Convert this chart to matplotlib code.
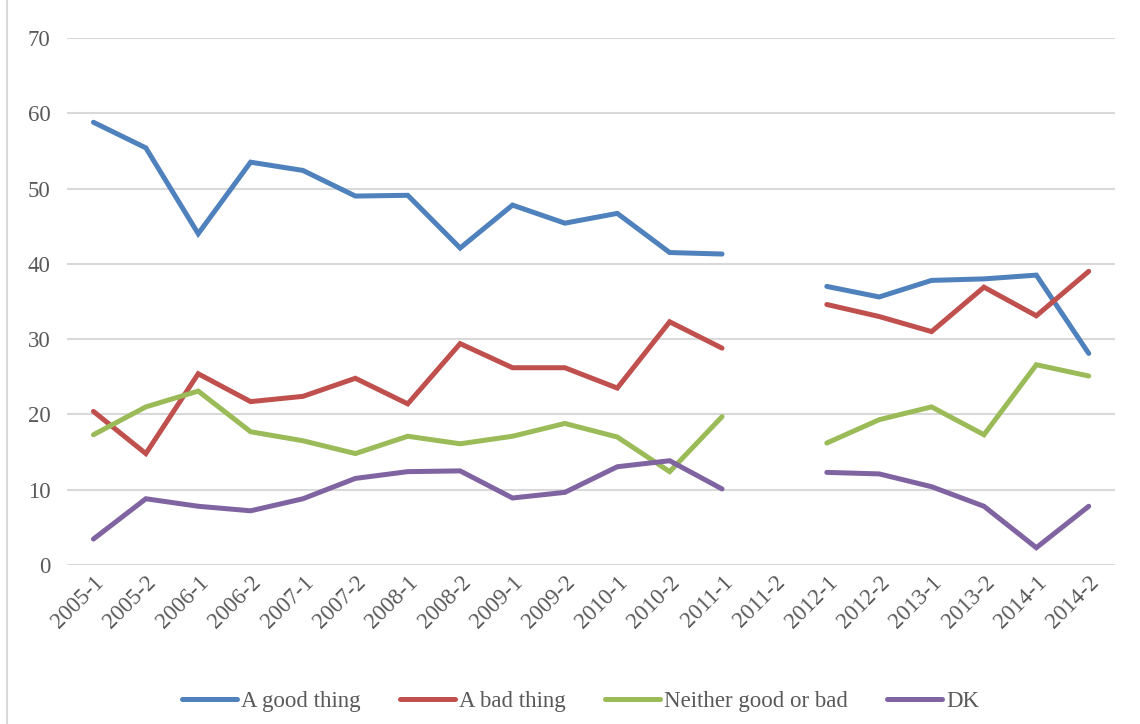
import numpy as np
import matplotlib as mpl
mpl.use('Agg')
import matplotlib.pyplot as plt
from matplotlib.lines import Line2D

periods = ['2005-1','2005-2','2006-1','2006-2','2007-1','2007-2','2008-1','2008-2',
           '2009-1','2009-2','2010-1','2010-2','2011-1','2011-2','2012-1','2012-2',
           '2013-1','2013-2','2014-1','2014-2']
nan = np.nan
good = [58.8,55.4,44.0,53.5,52.4,49.0,49.1,42.1,47.8,45.4,46.7,41.5,41.3,nan,
        37.0,35.6,37.8,38.0,38.5,28.1]
bad = [20.4,14.8,25.4,21.7,22.4,24.8,21.4,29.4,26.2,26.2,23.5,32.3,28.8,nan,
       34.6,33.0,31.0,36.9,33.1,39.0]
neither = [17.3,21.0,23.1,17.7,16.5,14.8,17.1,16.1,17.1,18.8,17.0,12.4,19.7,nan,
           16.2,19.3,21.0,17.3,26.6,25.1]
dk = [3.45,8.8,7.8,7.2,8.8,11.5,12.4,12.5,8.9,9.65,13.05,13.85,10.1,nan,
      12.3,12.1,10.4,7.8,2.3,7.8]

series = [good,bad,neither,dk]
labels = ['A good thing','A bad thing','Neither good or bad','DK']
colors = ['#4F81BD','#C0504D','#9BBB59','#8064A2']

plt.rcParams['font.family'] = ['Liberation Serif','DejaVu Serif']

fig = plt.figure(figsize=(11.4,7.24),dpi=100)
ax = fig.add_axes([0.059,0.2196,0.919,0.728])

x = np.arange(len(periods))
for i in range(len(series)):
    ax.plot(x,series[i],color=colors[i],linewidth=3.6,label=labels[i],
            solid_capstyle='round',solid_joinstyle='miter')

ax.set_xlim(-0.5,len(periods)-0.5)
ax.set_ylim(0,70)
ax.set_yticks(np.arange(0,71,10))
ax.set_xticks(x)
ax.set_xticklabels(periods,rotation=45,ha='right',rotation_mode='anchor')
ax.tick_params(axis='both',length=0,labelsize=16.5,colors='#595959')
ax.tick_params(axis='y',pad=12)
ax.tick_params(axis='x',pad=5)
ax.grid(axis='y',color='#D9D9D9',linewidth=1.5)
ax.set_axisbelow(True)
for s in ['top','right','left','bottom']:
    ax.spines[s].set_visible(False)

ax.legend(loc='upper center',bbox_to_anchor=(0.49,-0.2),ncol=4,frameon=False,
          fontsize=16.5,handlelength=2.4,handletextpad=0.2,columnspacing=1.7,
          labelcolor='#595959')

fig.add_artist(Line2D([7/1140,7/1140],[0,1],color='#D9D9D9',linewidth=1.5))

fig.savefig('out.png',dpi=100)
plt.close()
